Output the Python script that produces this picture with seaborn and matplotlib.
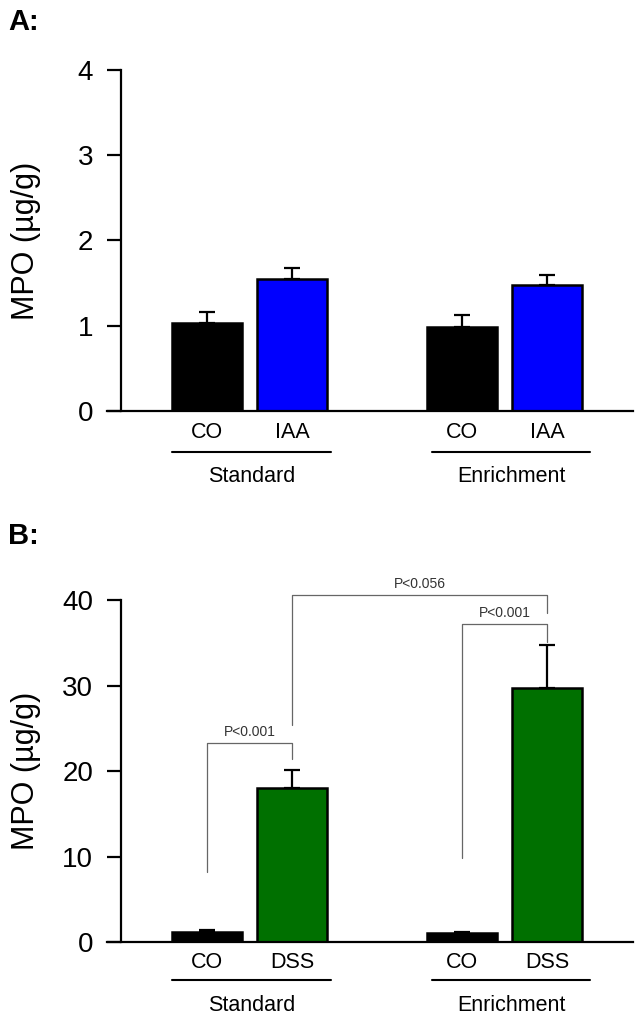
import numpy as np
import pandas as pd
import matplotlib
matplotlib.use('Agg')
import matplotlib.pyplot as plt
import seaborn as sns
from matplotlib.transforms import offset_copy

sns.set_style('ticks')
plt.rcParams['font.family'] = ['Liberation Sans', 'DejaVu Sans']
plt.rcParams['text.color'] = 'black'
plt.rcParams['axes.labelcolor'] = 'black'
plt.rcParams['ytick.color'] = 'black'

positions = [0, 1, 3, 4]
diets = ['Standard', 'Standard', 'Enrichment', 'Enrichment']

a_groups = ['CO', 'IAA', 'CO', 'IAA']
a_means = [1.03, 1.55, 0.98, 1.48]
a_sem = [0.13, 0.13, 0.15, 0.11]

b_groups = ['CO', 'DSS', 'CO', 'DSS']
b_means = [1.2, 18.0, 1.1, 29.7]
b_sem = [0.15, 2.1, 0.12, 5.0]

# left bar, right bar, bracket top, left drop, right drop, text
b_brackets = [
    (0, 1, 23.3, 8.2, 21.4, 'P<0.001'),
    (1, 3, 40.6, 25.4, 38.5, 'P<0.056'),
    (2, 3, 37.2, 9.8, 35.1, 'P<0.001'),
]

BAR_W = 0.82


def draw_panel(fig, ax, groups, means, sem, palette, yticks, off):
    df = pd.DataFrame({'pos': positions, 'group': groups, 'mean': means})
    sns.barplot(data=df, x='pos', y='mean', hue='group', palette=palette,
                native_scale=True, dodge=False, width=BAR_W, errorbar=None,
                saturation=1, edgecolor='black', linewidth=1.8, legend=False, ax=ax)
    ax.errorbar(positions, means, yerr=[np.zeros(len(sem)), sem], fmt='none',
                ecolor='black', elinewidth=1.6, capsize=5.5, capthick=1.6, zorder=3)

    ax.set_xlim(-1.176, 5.01)
    ax.set_ylim(yticks[0], yticks[-1])
    ax.set_yticks(yticks)
    ax.set_xticks([])
    ax.set_xlabel('')
    ax.set_ylabel('MPO (µg/g)', fontsize=22)
    ax.yaxis.set_label_coords(-0.125, 0.5)
    ax.tick_params(axis='y', direction='out', length=10, width=1.6, pad=10,
                   labelsize=20, colors='black')
    for side in ['top', 'right']:
        ax.spines[side].set_visible(False)
    ax.spines['left'].set_position(('data', -1.012))
    ax.spines['left'].set_linewidth(1.6)
    ax.spines['bottom'].set_linewidth(1.6)
    ax.spines['left'].set_color('black')
    ax.spines['bottom'].set_color('black')

    xt = ax.get_xaxis_transform()
    t_lab = offset_copy(xt, fig=fig, y=-off[0], units='dots')
    t_line = offset_copy(xt, fig=fig, y=-off[1], units='dots')
    t_diet = offset_copy(xt, fig=fig, y=-off[2], units='dots')
    for p, g in zip(positions, groups):
        ax.text(p, 0, g, transform=t_lab, ha='center', va='center', fontsize=15.5)
    for k, d in enumerate(['Standard', 'Enrichment']):
        ps = [p for p, dd in zip(positions, diets) if dd == d]
        x0 = min(ps) - BAR_W / 2 + 0.06 * k
        x1 = max(ps) + BAR_W / 2 + 0.05 + 0.05 * k
        ax.plot([x0, x1], [0, 0], color='black', lw=1.5, transform=t_line, clip_on=False)
        ax.text((x0 + x1) / 2, 0, d, transform=t_diet, ha='center', va='center', fontsize=15.5)


fig = plt.figure(figsize=(6.42, 10.21), dpi=100)
ax_a = fig.add_axes([107 / 642, 1 - 411 / 1021, 526 / 642, 341 / 1021])
ax_b = fig.add_axes([107 / 642, 1 - 942 / 1021, 526 / 642, 342 / 1021])

draw_panel(fig, ax_a, a_groups, a_means, a_sem, {'CO': 'black', 'IAA': '#0000ff'},
           [0, 1, 2, 3, 4], (22, 41, 66))
draw_panel(fig, ax_b, b_groups, b_means, b_sem, {'CO': 'black', 'DSS': '#007000'},
           [0, 10, 20, 30, 40], (20, 38, 63))

for i, j, top, l_drop, r_drop, txt in b_brackets:
    xl, xr = positions[i], positions[j]
    ax_b.plot([xl, xl, xr, xr], [l_drop, top, top, r_drop], color='#666666',
              lw=0.9, clip_on=False)
    ax_b.annotate(txt, ((xl + xr) / 2, top), xytext=(0, 3), textcoords='offset points',
                  ha='center', va='bottom', fontsize=10, color='#333333',
                  annotation_clip=False)

fig.text(8 / 642, 1 - 22 / 1021, 'A:', fontsize=21, weight='bold', va='center')
fig.text(8 / 642, 1 - 536 / 1021, 'B:', fontsize=21, weight='bold', va='center')

fig.savefig('out.png', dpi=100)
